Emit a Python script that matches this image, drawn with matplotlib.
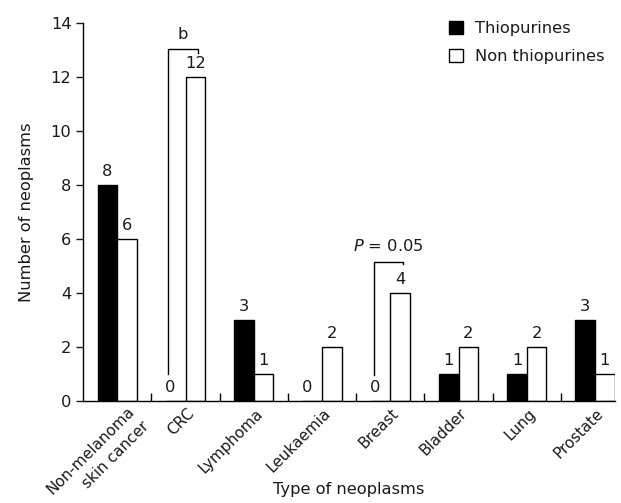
import numpy as np
import matplotlib.pyplot as plt
import matplotlib.transforms as mtrans

categories = ["Non-melanoma\nskin cancer", "CRC", "Lymphoma", "Leukaemia",
              "Breast", "Bladder", "Lung", "Prostate"]
thiopurines = [8, 0, 3, 0, 0, 1, 1, 3]
non_thiopurines = [6, 12, 1, 2, 4, 2, 2, 1]

plt.rcParams['font.family'] = ['DejaVu Sans']
plt.rcParams['font.size'] = 11.7
txt = '#1a1a1a'

fig = plt.figure(figsize=(6.21, 5.03), dpi=100)
ax = fig.add_axes([0.134, 0.203, 0.856, 0.752])

x = np.arange(len(categories))
w = 0.287
ax.bar(x - w / 2, thiopurines, w, color='black', edgecolor='black', lw=1, label='Thiopurines')
ax.bar(x + w / 2, non_thiopurines, w, color='white', edgecolor='black', lw=1, label='Non thiopurines')

for i in range(len(x)):
    v = thiopurines[i]
    xo = x[i] - w / 2 if v > 0 else x[i] - w / 2 - 0.08
    ax.text(xo, v + 0.2, str(v), ha='center', va='bottom', color=txt)
    v = non_thiopurines[i]
    ax.text(x[i] + w / 2, v + 0.2, str(v), ha='center', va='bottom', color=txt)

# significance brackets
ax.plot([0.746, 0.746, 1.178, 1.178], [1.0, 13.04, 13.04, 12.87], color='black', lw=1)
ax.text(0.96, 13.3, "b", ha='center', va='bottom', color=txt)
ax.plot([3.756, 3.756, 4.188, 4.188], [0.95, 5.13, 5.13, 5.05], color='black', lw=1)
ax.text(3.97, 5.45, r"$P$ = 0.05", ha='center', va='bottom', color=txt)

ax.set_xlim(-0.5, 7.29)
ax.set_ylim(0, 14)
ax.set_yticks(np.arange(0, 15, 2))
ax.set_xticks(x)
ax.set_xticklabels([])
# category names drawn by hand so they can sit a little right of centre
for k, name in enumerate(categories):
    dx, dy = (10, -3) if k == 0 else (1, -5)
    tr = ax.get_xaxis_transform() + mtrans.ScaledTranslation(dx / 100, dy / 100, fig.dpi_scale_trans)
    ax.text(x[k], 0, name, transform=tr, rotation=45, ha='right', va='top',
            rotation_mode='anchor', multialignment='right', linespacing=1.45,
            fontsize=11, color=txt, clip_on=False)
ax.set_xticks(x[:-1] + 0.5, minor=True)
ax.tick_params(axis='x', which='major', length=0)
ax.tick_params(axis='x', which='minor', direction='in', length=6, width=1)
ax.tick_params(axis='y', direction='out', length=5, width=1, colors=txt)
for s in ['top', 'right']:
    ax.spines[s].set_visible(False)
for s in ['left', 'bottom']:
    ax.spines[s].set_linewidth(1)

ax.set_ylabel("Number of neoplasms", color=txt, labelpad=12)
ax.set_xlabel("Type of neoplasms", color=txt, va='top')
ax.xaxis.set_label_coords(0.5, -0.215)

ax.legend(loc='upper left', bbox_to_anchor=(0.70, 0.987), bbox_transform=fig.transFigure,
          frameon=False, handlelength=0.85, handleheight=0.85, handletextpad=0.75,
          labelspacing=0.8, fontsize=11.7, labelcolor=txt)

fig.savefig("out.png", dpi=100)
